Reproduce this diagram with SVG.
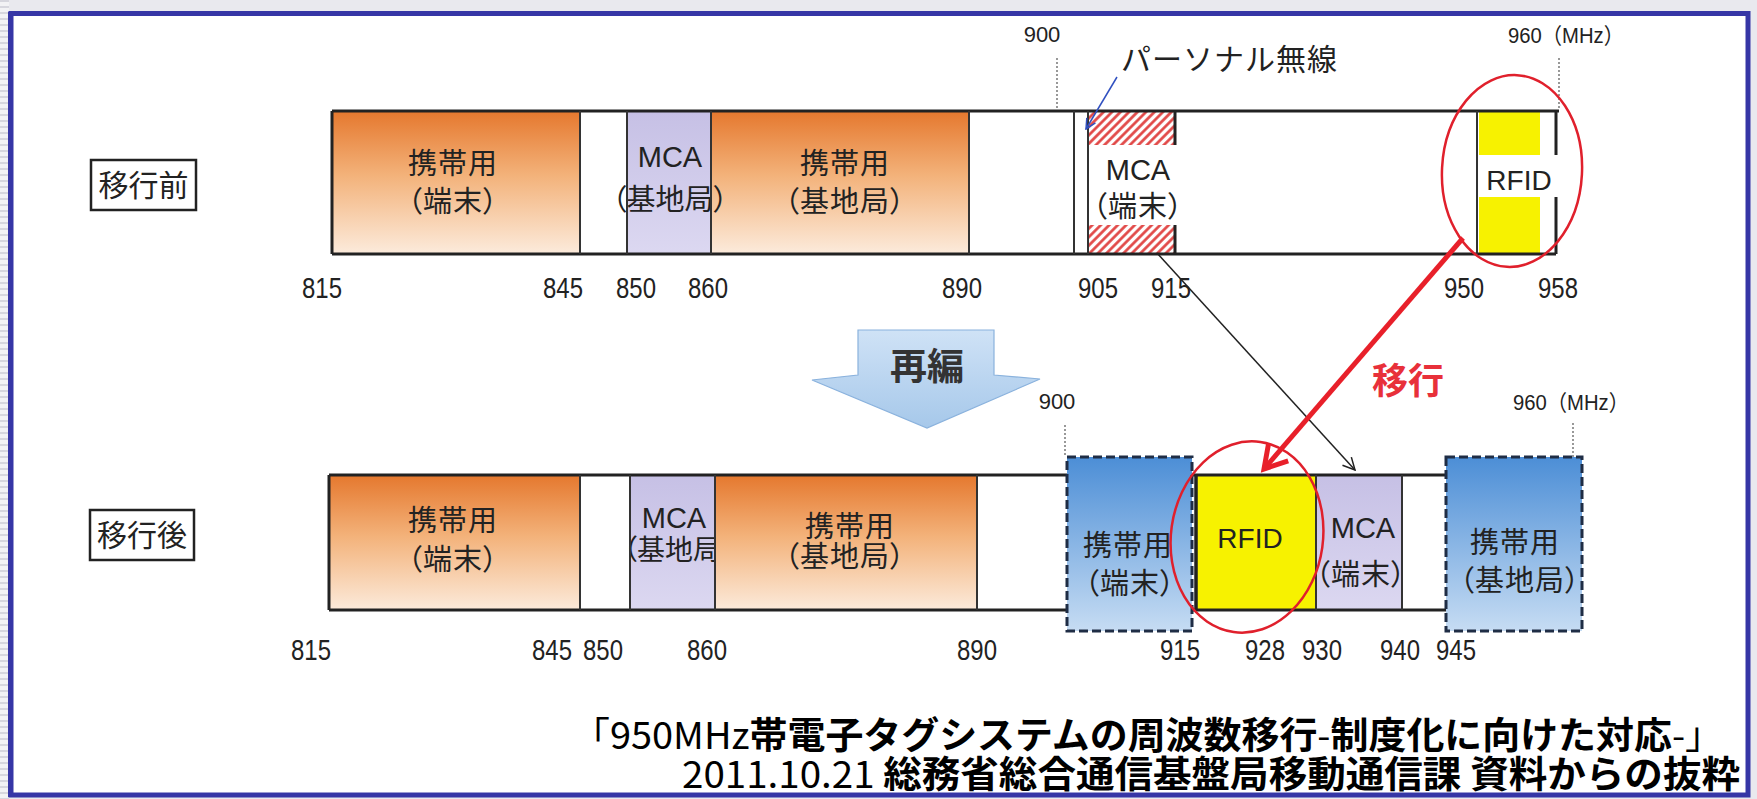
<svg xmlns="http://www.w3.org/2000/svg" width="1757" height="799" viewBox="0 0 1757 799">
<defs>
  <linearGradient id="gOrange" x1="0" y1="0" x2="0" y2="1">
    <stop offset="0" stop-color="#E5782E"/>
    <stop offset="0.45" stop-color="#F3B27A"/>
    <stop offset="1" stop-color="#FCEBDC"/>
  </linearGradient>
  <linearGradient id="gLav" x1="0" y1="0" x2="0" y2="1">
    <stop offset="0" stop-color="#C6C0E5"/>
    <stop offset="1" stop-color="#DCD8F1"/>
  </linearGradient>
  <linearGradient id="gBlue" x1="0" y1="0" x2="0" y2="1">
    <stop offset="0" stop-color="#4C8ED6"/>
    <stop offset="1" stop-color="#C6DCF3"/>
  </linearGradient>
  <linearGradient id="gArrow" x1="0" y1="0" x2="0" y2="1">
    <stop offset="0" stop-color="#CFE2F6"/>
    <stop offset="1" stop-color="#A6C8EA"/>
  </linearGradient>
  <pattern id="hatch" width="6" height="6" patternUnits="userSpaceOnUse" patternTransform="rotate(45)">
    <rect width="6" height="6" fill="#fff"/>
    <line x1="1.5" y1="0" x2="1.5" y2="6" stroke="#E0403F" stroke-width="2.6"/>
  </pattern>
  <pattern id="ruler" width="8" height="6" patternUnits="userSpaceOnUse">
    <rect width="8" height="6" fill="#F2F2F5"/>
    <rect y="0" width="8" height="2" fill="#D6D6DE"/>
  </pattern>
  <marker id="mBlack" viewBox="0 0 14 14" markerWidth="14" markerHeight="14" refX="13" refY="7" orient="auto" markerUnits="userSpaceOnUse">
    <path d="M1,1 L13,7 L1,13" fill="none" stroke="#222" stroke-width="1.5"/>
  </marker>
  <marker id="mBlue" viewBox="0 0 12 12" markerWidth="12" markerHeight="12" refX="11" refY="6" orient="auto" markerUnits="userSpaceOnUse">
    <path d="M1,1 L11,6 L1,11" fill="none" stroke="#3050C0" stroke-width="1.5"/>
  </marker>
  <marker id="mRed" viewBox="0 0 32 32" markerWidth="32" markerHeight="32" refX="27" refY="16" orient="auto" markerUnits="userSpaceOnUse">
    <path d="M5,3 L27,16 L5,29" fill="none" stroke="#E8202A" stroke-width="5" stroke-linejoin="miter"/>
  </marker>
  <style>
    .t{font-family:'Liberation Sans','Noto Sans CJK JP',sans-serif;font-size:29px;fill:#222;text-anchor:middle}
    .p{font-feature-settings:"palt"}
    .num{font-family:'Liberation Sans',Arial,sans-serif;font-size:29px;fill:#222;text-anchor:middle}
    .sm{font-family:'Liberation Sans','Noto Sans CJK JP',sans-serif;font-size:22px;fill:#222}
    .edge{stroke:#222;stroke-width:3;fill:none}
    .div{stroke:#333;stroke-width:2;fill:none}
    .dot{stroke:#555;stroke-width:1.2;stroke-dasharray:2 2;fill:none}
    .dash{stroke:#1F2D45;stroke-width:3;stroke-dasharray:9 4;fill:url(#gBlue)}
    .ell{fill:none;stroke:#E0202C;stroke-width:2.5}
    .box{fill:#fff;stroke:#222;stroke-width:2.5}
    .cap{font-family:'Noto Sans CJK JP',sans-serif;font-size:37px;fill:#000}
  </style>
</defs>

<rect width="1757" height="799" fill="#E9E9EE"/>
<rect x="0" y="0" width="9" height="799" fill="url(#ruler)"/>
<rect x="11" y="13.5" width="1737" height="781.5" fill="#fff" stroke="#3636A6" stroke-width="5"/>
<line x1="9.5" y1="12" x2="9.5" y2="797" stroke="#3636A6" stroke-width="3"/>

<!-- row labels -->
<g id="label-before">
  <rect class="box" x="91" y="160" width="105" height="50"/>
  <text class="t" x="143.5" y="196" style="font-size:30px">移行前</text>
</g>
<g id="label-after">
  <rect class="box" x="90" y="510" width="104" height="50"/>
  <text class="t" x="142" y="546" style="font-size:30px">移行後</text>
</g>

<!-- upper band -->
<g id="upper-band">
  <rect x="332" y="111" width="1224" height="143" fill="#fff"/>
</g>
<g id="u-keitai-tanmatsu">
  <rect x="332" y="111" width="248" height="143" fill="url(#gOrange)"/>
  <text class="t" x="453" y="174" letter-spacing="1">携帯用</text>
  <text class="t p" x="453" y="212" letter-spacing="1">（端末）</text>
</g>
<g id="u-mca-kichi">
  <rect x="627" y="111" width="84" height="143" fill="url(#gLav)"/>
</g>
<g id="u-keitai-kichi">
  <rect x="711" y="111" width="258" height="143" fill="url(#gOrange)"/>
  <text class="t" x="845" y="174" letter-spacing="1">携帯用</text>
  <text class="t p" x="845" y="212" letter-spacing="1">（基地局）</text>
</g>
<g id="u-mca-kichi-text">
  <text class="t" x="670" y="167">MCA</text>
  <text class="t p" x="670" y="210">（基地局）</text>
</g>
<g id="u-mca-tanmatsu">
  <rect x="1088" y="111" width="87" height="34" fill="url(#hatch)"/>
  <rect x="1088" y="225" width="87" height="29" fill="url(#hatch)"/>
  <text class="t" x="1138" y="180">MCA</text>
  <text class="t p" x="1138" y="217" letter-spacing="1">（端末）</text>
</g>
<g id="u-rfid">
  <rect x="1479" y="111" width="61" height="143" fill="#F7F200"/>
  <rect x="1479" y="155" width="80" height="42" fill="#fff"/>
  <text class="t" x="1519" y="190" style="font-size:28px">RFID</text>
</g>
<g id="upper-lines">
  <path class="edge" d="M332,111 H1559 M332,254 H1556 M332,111 V254"/>
  <path class="div" d="M580,111 V254 M627,111 V254 M711,111 V254 M969,111 V254 M1074,111 V254 M1088,111 V254 M1477,111 V254"/>
  <path class="edge" d="M1175,111 V145 M1175,225 V254 M1556,111 V155 M1556,197 V254"/>
  <path class="dot" d="M1057,58 V108 M1559,58 V110"/>
</g>

<!-- upper scale -->
<g id="upper-scale">
  <text class="sm" x="1042" y="42" text-anchor="middle">900</text>
  <text class="sm" x="1508" y="43" textLength="116" lengthAdjust="spacingAndGlyphs">960（MHz）</text>
  <text class="num" x="322" y="298" textLength="40" lengthAdjust="spacingAndGlyphs">815</text>
  <text class="num" x="563" y="298" textLength="40" lengthAdjust="spacingAndGlyphs">845</text>
  <text class="num" x="636" y="298" textLength="40" lengthAdjust="spacingAndGlyphs">850</text>
  <text class="num" x="708" y="298" textLength="40" lengthAdjust="spacingAndGlyphs">860</text>
  <text class="num" x="962" y="298" textLength="40" lengthAdjust="spacingAndGlyphs">890</text>
  <text class="num" x="1098" y="298" textLength="40" lengthAdjust="spacingAndGlyphs">905</text>
  <text class="num" x="1171" y="298" textLength="40" lengthAdjust="spacingAndGlyphs">915</text>
  <text class="num" x="1464" y="298" textLength="40" lengthAdjust="spacingAndGlyphs">950</text>
  <text class="num" x="1558" y="298" textLength="40" lengthAdjust="spacingAndGlyphs">958</text>
  <text class="t" x="1121" y="70" style="text-anchor:start;font-size:30px" letter-spacing="1">パーソナル無線</text>
</g>

<!-- reorganize arrow -->
<g id="reorg-arrow">
  <polygon points="858,330 994,330 994,375 1040,379 927,428 812,380 858,375" fill="url(#gArrow)" stroke="#8AB2DD" stroke-width="1.2"/>
  <text class="t" x="927" y="380" style="font-size:37px;font-weight:bold;fill:#333">再編</text>
</g>

<!-- lower band -->
<g id="l-keitai-tanmatsu">
  <rect x="329" y="475" width="251" height="136" fill="url(#gOrange)"/>
  <text class="t" x="453" y="531" letter-spacing="1">携帯用</text>
  <text class="t p" x="453" y="570" letter-spacing="1">（端末）</text>
</g>
<g id="l-mca-kichi">
  <rect x="630" y="475" width="85" height="136" fill="url(#gLav)"/>
  <text class="t" x="674" y="528">MCA</text>
  <text class="t p" x="623" y="560" style="text-anchor:start;font-size:28px">（基地局</text>
</g>
<g id="l-keitai-kichi">
  <rect x="715" y="475" width="262" height="136" fill="url(#gOrange)"/>
  <text class="t" x="850" y="537" letter-spacing="1">携帯用</text>
  <text class="t p" x="845" y="567" letter-spacing="1">（基地局）</text>
</g>
<g id="l-mca-tanmatsu">
  <rect x="1316" y="475" width="86" height="136" fill="url(#gLav)"/>
  <text class="t" x="1363" y="538">MCA</text>
  <text class="t p" x="1361" y="585" letter-spacing="1">（端末）</text>
</g>
<g id="l-rfid">
  <rect x="1196" y="475" width="120" height="136" fill="#F7F200"/>
  <text class="t" x="1250" y="548" style="font-size:28px">RFID</text>
</g>
<g id="lower-lines">
  <path class="edge" d="M329,475 H1067 M329,610 H1067 M329,475 V610 M1192,475 H1446 M1192,610 H1446"/>
  <path class="div" d="M580,475 V610 M630,475 V610 M715,475 V610 M977,475 V610 M1316,475 V610 M1402,475 V610"/>
  <path d="M1196,475 V611" stroke="#222" stroke-width="3.5"/>
  <path class="dot" d="M1065,425 V457 M1573,423 V457"/>
</g>
<g id="l-keitai-tanmatsu-new">
  <rect class="dash" x="1067" y="457" width="125" height="174"/>
  <text class="t" x="1128" y="556" letter-spacing="1">携帯用</text>
  <text class="t p" x="1130" y="594" letter-spacing="1">（端末）</text>
</g>
<g id="l-keitai-kichi-new">
  <rect class="dash" x="1446" y="457" width="136" height="174"/>
  <text class="t" x="1515" y="553" letter-spacing="1">携帯用</text>
  <text class="t p" x="1520" y="591" letter-spacing="1">（基地局）</text>
</g>

<!-- lower scale -->
<g id="lower-scale">
  <text class="sm" x="1057" y="409" text-anchor="middle">900</text>
  <text class="sm" x="1513" y="410" textLength="116" lengthAdjust="spacingAndGlyphs">960（MHz）</text>
  <text class="num" x="311" y="660" textLength="40" lengthAdjust="spacingAndGlyphs">815</text>
  <text class="num" x="552" y="660" textLength="40" lengthAdjust="spacingAndGlyphs">845</text>
  <text class="num" x="603" y="660" textLength="40" lengthAdjust="spacingAndGlyphs">850</text>
  <text class="num" x="707" y="660" textLength="40" lengthAdjust="spacingAndGlyphs">860</text>
  <text class="num" x="977" y="660" textLength="40" lengthAdjust="spacingAndGlyphs">890</text>
  <text class="num" x="1180" y="660" textLength="40" lengthAdjust="spacingAndGlyphs">915</text>
  <text class="num" x="1265" y="660" textLength="40" lengthAdjust="spacingAndGlyphs">928</text>
  <text class="num" x="1322" y="660" textLength="40" lengthAdjust="spacingAndGlyphs">930</text>
  <text class="num" x="1400" y="660" textLength="40" lengthAdjust="spacingAndGlyphs">940</text>
  <text class="num" x="1456" y="660" textLength="40" lengthAdjust="spacingAndGlyphs">945</text>
</g>

<!-- highlight ellipses -->
<g id="rfid-old-circle">
  <ellipse class="ell" cx="1512" cy="171" rx="70" ry="96" transform="rotate(3 1512 171)"/>
</g>
<g id="rfid-new-circle">
  <ellipse class="ell" cx="1247" cy="537" rx="76" ry="96" transform="rotate(8 1247 537)"/>
</g>

<!-- connectors -->
<g id="connectors">
  <line x1="1117" y1="77" x2="1086" y2="129" stroke="#3050C0" stroke-width="1.5" marker-end="url(#mBlue)"/>
  <line x1="1157" y1="253" x2="1355" y2="470" stroke="#222" stroke-width="1.5" marker-end="url(#mBlack)"/>
  <line x1="1463" y1="238" x2="1264" y2="469" stroke="#E8202A" stroke-width="5" marker-end="url(#mRed)"/>
  <text x="1372" y="394" style="font-family:'Noto Sans CJK JP',sans-serif;font-size:36px;font-weight:bold;fill:#E8303A">移行</text>
</g>

<!-- caption -->
<g id="caption">
  <text class="cap" x="572" y="749" textLength="1151" lengthAdjust="spacingAndGlyphs">「950MHz<tspan font-weight="bold">帯電子タグシステムの周波数移行</tspan>-<tspan font-weight="bold">制度化に向けた対応</tspan>-」</text>
  <text class="cap" x="682" y="788" textLength="1058" lengthAdjust="spacingAndGlyphs">2011.10.21 <tspan font-weight="bold">総務省総合通信基盤局移動通信課 資料からの抜粋</tspan></text>
</g>
</svg>
